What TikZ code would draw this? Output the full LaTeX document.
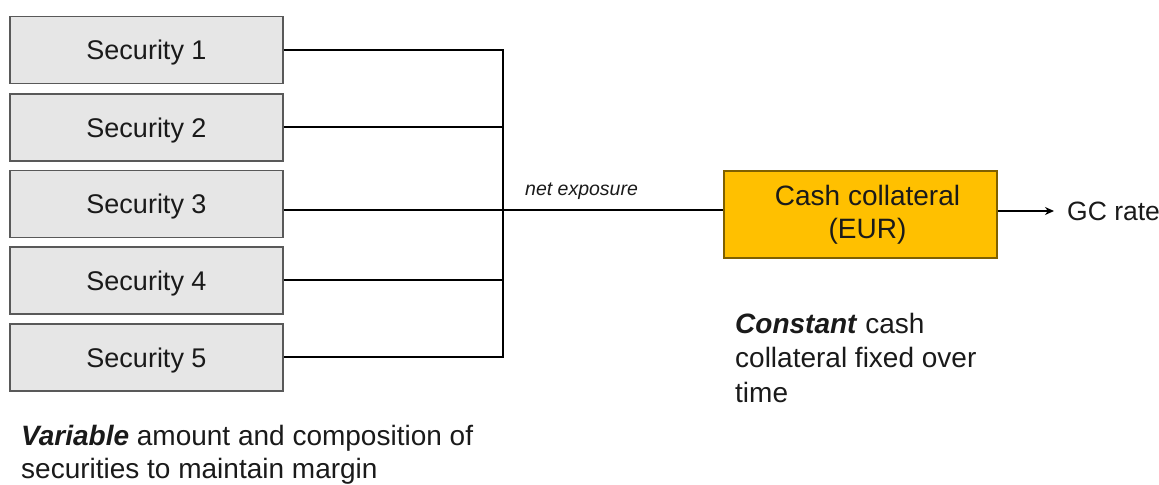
\documentclass[tikz,border=0pt]{standalone}
\usepackage{fontspec}
\setmainfont{Liberation Sans}
\usetikzlibrary{arrows.meta}
\definecolor{secfill}{HTML}{E6E6E6}
\definecolor{secdraw}{HTML}{595959}
\definecolor{cashfill}{HTML}{FFC000}
\definecolor{cashdraw}{HTML}{7F6000}
\definecolor{ink}{HTML}{1A1A1A}
\begin{document}
\begin{tikzpicture}[x=1bp,y=-1bp,
  secbox/.style={draw=secdraw, fill=secfill, line width=1.2bp,
    minimum width=273bp, minimum height=67bp, inner sep=0pt, text=ink,
    font=\fontsize{27bp}{33bp}\selectfont, text height=19.5bp, text depth=0pt},
  cashbox/.style={draw=cashdraw, fill=cashfill, line width=1.2bp,
    minimum width=273bp, minimum height=87bp, inner sep=0pt, text=ink,
    align=center, font=\fontsize{28bp}{33bp}\selectfont},
  wire/.style={line width=2bp, draw=black},
  body/.style={anchor=base west, inner sep=0pt, text=ink,
    font=\fontsize{28bp}{34bp}\selectfont},
  note/.style={anchor=base west, inner sep=0pt, text=ink,
    font=\fontsize{19.5bp}{23bp}\selectfont\itshape}
]
\useasboundingbox (0,0) rectangle (1159,485);

% securities
\node[secbox] (s1) at (146.5,50)    {Security 1};
\node[secbox] (s2) at (146.5,127.5) {Security 2};
\node[secbox] (s3) at (146.5,204)   {Security 3};
\node[secbox] (s4) at (146.5,280.5) {Security 4};
\node[secbox] (s5) at (146.5,357.5) {Security 5};

% cash collateral
\node[cashbox] (cash) at (860.5,214.5)
  {\hspace*{14bp}Cash collateral\\\hspace*{14bp}(EUR)};

% GC rate
\node[anchor=west, inner xsep=13bp, inner ysep=0pt, text=ink,
      font=\fontsize{26.5bp}{32bp}\selectfont] (gc) at (1054,211) {GC rate};

% junction
\coordinate (j) at (503,210.5);

\draw[wire] (s1.east) -- (s1.east -| j) -- (s5.east -| j) -- (s5.east);
\draw[wire] (s2.east) -- (s2.east -| j);
\draw[wire] (s4.east) -- (s4.east -| j);
\draw[wire] (s3.east |- j) -- (cash.west |- j);
\draw[wire, -{Stealth[length=9bp,width=8bp]}] (cash.east |- gc.west) -- (gc.west);

% labels
\node[note] (ne) at (525,196) {net exposure};

\node[body] (c1) at (735,334) {\textbf{\textit{Constant}} cash};
\node[body] (c2) at (735,368) {collateral fixed over};
\node[body] (c3) at (735,402) {time};

\node[body] (v1) at (21,445) {\textbf{\textit{Variable}} amount and composition of};
\node[body] (v2) at (21,478.5) {securities to maintain margin};
\end{tikzpicture}
\end{document}
